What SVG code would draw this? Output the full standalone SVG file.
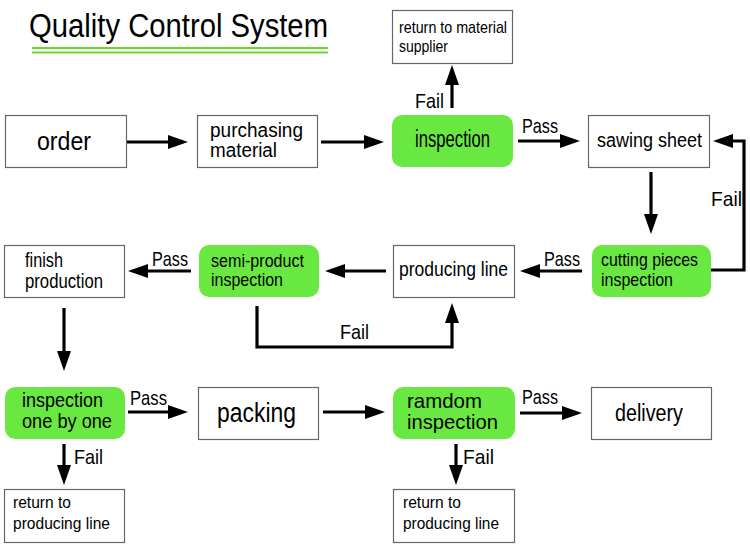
<svg xmlns="http://www.w3.org/2000/svg" width="750" height="548" viewBox="0 0 750 548">
<style>
text{font-family:"Liberation Sans",Arial,sans-serif;fill:#000}
.box{fill:#fff;stroke:#666;stroke-width:1.2}
.grn{fill:#6ae842;stroke:none}
.ln{fill:none;stroke:#000;stroke-width:3.2;marker-end:url(#ah)}
.lbl{font-size:21px}
</style>
<defs>
<marker id="ah" markerUnits="userSpaceOnUse" markerWidth="20" markerHeight="14" refX="6" refY="7" orient="auto">
<path d="M0,0 L20,7 L0,14 Z" fill="#000"/>
</marker>
</defs>
<rect width="750" height="548" fill="#fff"/>
<g id="title">
<text x="29" y="37" font-size="33" textLength="299" lengthAdjust="spacingAndGlyphs">Quality Control System</text>
<line x1="32" y1="48" x2="328" y2="48" stroke="#6ad82a" stroke-width="2"/>
<line x1="32" y1="52.5" x2="328" y2="52.5" stroke="#6ad82a" stroke-width="2"/>
</g>
<g id="connectors">
<path class="ln" d="M127,142 H174"/>
<path class="ln" d="M321,142 H370"/>
<path class="ln" d="M452,108 V79"/>
<path class="ln" d="M518,141 H566"/>
<path class="ln" d="M651,172 V220"/>
<path class="ln" d="M711,270 H744 V141 H727"/>
<path class="ln" d="M582,271 H534"/>
<path class="ln" d="M386,271 H339"/>
<path class="ln" d="M191,271 H142"/>
<path class="ln" d="M257,306 V347 H452 V317"/>
<path class="ln" d="M64,308 V357"/>
<path class="ln" d="M128,412 H174"/>
<path class="ln" d="M323,412 H371"/>
<path class="ln" d="M520,413 H568"/>
<path class="ln" d="M64,444 V471"/>
<path class="ln" d="M456,444 V471"/>
<text class="lbl" x="415" y="108" textLength="29" lengthAdjust="spacingAndGlyphs">Fail</text>
<text class="lbl" x="522" y="133" textLength="36" lengthAdjust="spacingAndGlyphs">Pass</text>
<text class="lbl" x="711" y="206" textLength="31" lengthAdjust="spacingAndGlyphs">Fail</text>
<text class="lbl" x="544" y="266" textLength="36" lengthAdjust="spacingAndGlyphs">Pass</text>
<text class="lbl" x="152" y="266" textLength="36" lengthAdjust="spacingAndGlyphs">Pass</text>
<text class="lbl" x="340" y="339" textLength="29" lengthAdjust="spacingAndGlyphs">Fail</text>
<text class="lbl" x="130" y="405" textLength="37" lengthAdjust="spacingAndGlyphs">Pass</text>
<text class="lbl" x="522" y="404" textLength="36" lengthAdjust="spacingAndGlyphs">Pass</text>
<text class="lbl" x="74" y="464" textLength="29" lengthAdjust="spacingAndGlyphs">Fail</text>
<text class="lbl" x="463" y="464" textLength="31" lengthAdjust="spacingAndGlyphs">Fail</text>
</g>
<g id="order">
<rect class="box" x="5.5" y="115.5" width="121" height="52"/>
<text x="37" y="150" font-size="26" textLength="54" lengthAdjust="spacingAndGlyphs">order</text>
</g>
<g id="purchasing">
<rect class="box" x="197.5" y="115.5" width="120" height="52"/>
<text x="210" y="137" font-size="20" textLength="93" lengthAdjust="spacingAndGlyphs">purchasing</text>
<text x="210" y="157" font-size="20" textLength="67" lengthAdjust="spacingAndGlyphs">material</text>
</g>
<g id="return-supplier">
<rect class="box" x="392.5" y="10.5" width="120" height="53"/>
<text x="399" y="33" font-size="17" textLength="108" lengthAdjust="spacingAndGlyphs">return to material</text>
<text x="399" y="52" font-size="17" textLength="49" lengthAdjust="spacingAndGlyphs">supplier</text>
</g>
<g id="inspection">
<rect class="grn" x="392" y="115" width="121" height="52" rx="10"/>
<text x="415" y="147" font-size="23" textLength="75" lengthAdjust="spacingAndGlyphs">inspection</text>
</g>
<g id="sawing">
<rect class="box" x="588.5" y="115.5" width="121" height="52"/>
<text x="597" y="147" font-size="20" textLength="105" lengthAdjust="spacingAndGlyphs">sawing sheet</text>
</g>
<g id="cutting">
<rect class="grn" x="592" y="245" width="119" height="52" rx="10"/>
<text x="601" y="266" font-size="19" textLength="97" lengthAdjust="spacingAndGlyphs">cutting pieces</text>
<text x="601" y="286" font-size="19" textLength="72" lengthAdjust="spacingAndGlyphs">inspection</text>
</g>
<g id="producing">
<rect class="box" x="393.5" y="245.5" width="121" height="52"/>
<text x="399" y="276" font-size="21" textLength="109" lengthAdjust="spacingAndGlyphs">producing line</text>
</g>
<g id="semi">
<rect class="grn" x="199" y="245" width="120" height="52" rx="10"/>
<text x="211" y="267" font-size="19" textLength="93" lengthAdjust="spacingAndGlyphs">semi-product</text>
<text x="211" y="286" font-size="19" textLength="72" lengthAdjust="spacingAndGlyphs">inspection</text>
</g>
<g id="finish">
<rect class="box" x="4.5" y="245.5" width="120" height="52"/>
<text x="25" y="267" font-size="20" textLength="38" lengthAdjust="spacingAndGlyphs">finish</text>
<text x="25" y="288" font-size="20" textLength="78" lengthAdjust="spacingAndGlyphs">production</text>
</g>
<g id="one-by-one">
<rect class="grn" x="5" y="387" width="120" height="52" rx="10"/>
<text x="22" y="407" font-size="21" textLength="81" lengthAdjust="spacingAndGlyphs">inspection</text>
<text x="22" y="428" font-size="21" textLength="90" lengthAdjust="spacingAndGlyphs">one by one</text>
</g>
<g id="packing">
<rect class="box" x="198.5" y="387.5" width="120" height="52"/>
<text x="217" y="422" font-size="27" textLength="79" lengthAdjust="spacingAndGlyphs">packing</text>
</g>
<g id="ramdom">
<rect class="grn" x="393" y="387" width="122" height="52" rx="10"/>
<text x="407" y="408" font-size="21" textLength="75" lengthAdjust="spacingAndGlyphs">ramdom</text>
<text x="407" y="429" font-size="21" textLength="91" lengthAdjust="spacingAndGlyphs">inspection</text>
</g>
<g id="delivery">
<rect class="box" x="591.5" y="387.5" width="120" height="52"/>
<text x="615" y="421" font-size="23" textLength="68" lengthAdjust="spacingAndGlyphs">delivery</text>
</g>
<g id="return-left">
<rect class="box" x="4.5" y="489.5" width="120" height="53"/>
<text x="13" y="508" font-size="17" textLength="58" lengthAdjust="spacingAndGlyphs">return to</text>
<text x="13" y="529" font-size="17" textLength="97" lengthAdjust="spacingAndGlyphs">producing line</text>
</g>
<g id="return-right">
<rect class="box" x="393.5" y="489.5" width="121" height="53"/>
<text x="403" y="508" font-size="17" textLength="58" lengthAdjust="spacingAndGlyphs">return to</text>
<text x="403" y="529" font-size="17" textLength="96" lengthAdjust="spacingAndGlyphs">producing line</text>
</g>
</svg>
